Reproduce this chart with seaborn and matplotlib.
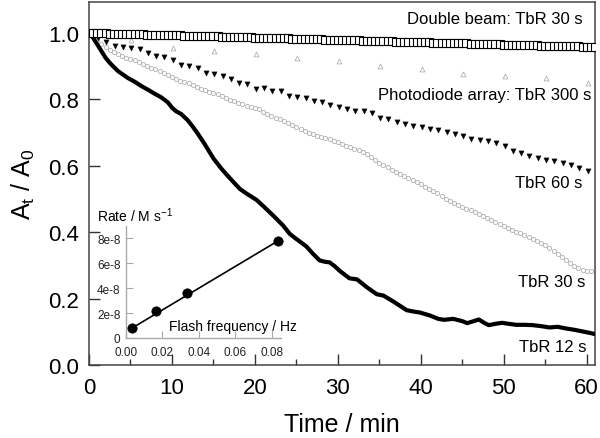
import numpy as np
import pandas as pd
import matplotlib
matplotlib.use("Agg")
import matplotlib.pyplot as plt
import seaborn as sns

# ---------------- data ----------------
# Double beam: TbR 30 s (open squares, every 0.5 min)
sq_t = [i * 0.5 for i in range(123)]
sq_v = [1.000, 1.000, 0.999, 0.999, 0.999, 0.998, 0.998, 0.998, 0.997, 0.997,
        0.997, 0.996, 0.996, 0.996, 0.995, 0.995, 0.995, 0.994, 0.994, 0.994,
        0.993, 0.993, 0.993, 0.992, 0.992, 0.992, 0.991, 0.991, 0.991, 0.990,
        0.990, 0.990, 0.989, 0.989, 0.988, 0.988, 0.988, 0.987, 0.987, 0.987,
        0.986, 0.986, 0.986, 0.985, 0.985, 0.985, 0.984, 0.984, 0.984, 0.983,
        0.983, 0.983, 0.982, 0.982, 0.981, 0.981, 0.981, 0.980, 0.980, 0.980,
        0.979, 0.979, 0.979, 0.978, 0.978, 0.978, 0.977, 0.977, 0.977, 0.976,
        0.976, 0.976, 0.975, 0.975, 0.974, 0.974, 0.974, 0.973, 0.973, 0.973,
        0.972, 0.972, 0.972, 0.971, 0.971, 0.971, 0.970, 0.970, 0.970, 0.969,
        0.969, 0.969, 0.968, 0.968, 0.967, 0.967, 0.967, 0.966, 0.966, 0.966,
        0.965, 0.965, 0.965, 0.964, 0.964, 0.964, 0.963, 0.963, 0.963, 0.962,
        0.962, 0.962, 0.961, 0.961, 0.961, 0.960, 0.960, 0.960, 0.960, 0.959,
        0.959, 0.959, 0.959]

# Photodiode array: TbR 300 s (open grey up-triangles)
pd_t = [0.1, 5.1, 10.1, 15.1, 20.1, 25.1, 30.1, 35.1, 40.1, 45.1, 50.1, 55.1, 60.1]
pd_v = [1.000, 0.978, 0.955, 0.945, 0.937, 0.924, 0.914, 0.899, 0.890, 0.876,
        0.871, 0.863, 0.849]

# TbR 60 s (filled down-triangles)
t60_t = [0.1 + i for i in range(61)]
t60_v = [1.000, 0.985, 0.972, 0.960, 0.957, 0.955, 0.952, 0.939, 0.930, 0.927,
         0.917, 0.903, 0.899, 0.895, 0.880, 0.877, 0.869, 0.862, 0.849, 0.846,
         0.831, 0.833, 0.824, 0.824, 0.811, 0.806, 0.804, 0.796, 0.791, 0.783,
         0.776, 0.771, 0.764, 0.764, 0.759, 0.743, 0.741, 0.733, 0.726, 0.719,
         0.716, 0.711, 0.708, 0.703, 0.696, 0.689, 0.681, 0.678, 0.673, 0.668,
         0.659, 0.644, 0.638, 0.630, 0.623, 0.617, 0.613, 0.607, 0.602, 0.592,
         0.583]

# TbR 30 s (open grey circles, every 0.5 min)
t30_t = [i * 0.5 for i in range(122)]
t30_v = [1.000, 0.992, 0.980, 0.968, 0.958, 0.949, 0.941, 0.935, 0.930, 0.925,
         0.921, 0.917, 0.912, 0.907, 0.901, 0.895, 0.890, 0.884, 0.878, 0.872,
         0.866, 0.860, 0.855, 0.851, 0.848, 0.844, 0.837, 0.831, 0.827, 0.823,
         0.819, 0.815, 0.810, 0.804, 0.799, 0.794, 0.789, 0.785, 0.781, 0.778,
         0.775, 0.771, 0.763, 0.755, 0.750, 0.745, 0.740, 0.735, 0.729, 0.722,
         0.716, 0.710, 0.705, 0.700, 0.695, 0.690, 0.686, 0.683, 0.679, 0.675,
         0.670, 0.665, 0.660, 0.655, 0.650, 0.646, 0.641, 0.636, 0.627, 0.617,
         0.608, 0.603, 0.596, 0.588, 0.581, 0.575, 0.569, 0.562, 0.556, 0.550,
         0.544, 0.537, 0.531, 0.524, 0.517, 0.509, 0.501, 0.495, 0.489, 0.482,
         0.476, 0.471, 0.466, 0.461, 0.456, 0.450, 0.444, 0.437, 0.431, 0.425,
         0.419, 0.412, 0.406, 0.401, 0.396, 0.391, 0.385, 0.379, 0.373, 0.366,
         0.360, 0.351, 0.342, 0.333, 0.324, 0.316, 0.307, 0.299, 0.292, 0.287,
         0.284, 0.284]

# TbR 12 s (thick black line)
t12_t = [0.0, 0.5, 1.0, 1.5, 2.0, 2.5, 3.0, 3.5, 4.0, 4.7, 5.5, 6.3, 7.1, 7.9,
         8.7, 9.5, 10.0, 10.5, 11.1, 11.9, 12.5, 13.1, 13.9, 15.0, 16.0, 17.0,
         18.2, 19.0, 20.2, 21.2, 22.2, 23.4, 24.2, 24.8, 25.4, 26.2, 27.0, 27.8,
         28.4, 29.0, 29.6, 30.2, 31.4, 32.3, 33.0, 33.5, 34.7, 35.5, 36.7, 37.5,
         38.3, 39.1, 39.9, 41.1, 42.1, 42.8, 43.9, 45.0, 45.6, 46.5, 47.0, 47.7,
         48.2, 49.0, 49.8, 50.6, 51.5, 52.5, 53.5, 54.5, 55.5, 56.5, 57.5, 58.5,
         59.5, 60.5, 61.0]
t12_v = [1.000, 0.985, 0.965, 0.945, 0.925, 0.910, 0.897, 0.885, 0.876, 0.864,
         0.853, 0.840, 0.829, 0.817, 0.806, 0.791, 0.775, 0.764, 0.756, 0.737,
         0.718, 0.697, 0.667, 0.622, 0.590, 0.562, 0.530, 0.516, 0.497, 0.474,
         0.450, 0.420, 0.395, 0.383, 0.372, 0.357, 0.335, 0.315, 0.311, 0.309,
         0.298, 0.284, 0.261, 0.258, 0.244, 0.234, 0.213, 0.209, 0.191, 0.178,
         0.165, 0.161, 0.158, 0.149, 0.139, 0.136, 0.139, 0.132, 0.126, 0.133,
         0.137, 0.126, 0.120, 0.124, 0.127, 0.124, 0.121, 0.121, 0.120, 0.117,
         0.113, 0.115, 0.110, 0.106, 0.101, 0.096, 0.093]

# Inset: rate vs flash frequency
freq = [1 / 300, 1 / 60, 1 / 30, 1 / 12]
rate = [0.8e-8, 2.2e-8, 3.6e-8, 7.8e-8]

x_ticks = [0, 10, 20, 30, 40, 50, 60]
y_ticks = [0.0, 0.2, 0.4, 0.6, 0.8, 1.0]
ix_ticks = [0.00, 0.02, 0.04, 0.06, 0.08]
iy_ticks = [0, 2e-8, 4e-8, 6e-8, 8e-8]
iy_labels = ["0", "2e-8", "4e-8", "6e-8", "8e-8"]

# ---------------- style ----------------
sns.set_theme(style="ticks")
plt.rcParams["font.family"] = ["Liberation Sans", "DejaVu Sans"]
plt.rcParams["mathtext.default"] = "regular"
plt.rcParams["text.color"] = "black"
plt.rcParams["axes.labelcolor"] = "black"
plt.rcParams["xtick.color"] = "black"
plt.rcParams["ytick.color"] = "black"

fig = plt.figure(figsize=(6.0, 4.39), dpi=100)
ax = fig.add_axes([89 / 600, 73 / 439, 506 / 600, 363 / 439])

grey = "#b0b0b0"

sns.scatterplot(x=t30_t, y=t30_v, ax=ax, marker="o", s=9, facecolor="white",
                edgecolor=grey, linewidth=0.6, zorder=3, clip_on=True)
sns.scatterplot(x=t60_t, y=t60_v, ax=ax, marker="v", s=14, color="black",
                edgecolor="black", linewidth=0.3, zorder=4)
sns.lineplot(x=t12_t, y=t12_v, ax=ax, color="black", linewidth=3.0,
             zorder=5, sort=False)
sns.scatterplot(x=pd_t, y=pd_v, ax=ax, marker="^", s=12, facecolor="white",
                edgecolor=grey, linewidth=0.6, zorder=6)
sns.scatterplot(x=sq_t, y=sq_v, ax=ax, marker="s", s=34, facecolor="white",
                edgecolor="black", linewidth=0.8, zorder=7)

ax.set_xlim(0, 61)
ax.set_ylim(0, 1.093)
ax.set_xticks(x_ticks)
ax.set_xticks([5, 15, 25, 35, 45, 55], minor=True)
ax.set_yticks(y_ticks)
ax.set_yticklabels([f"{v:.1f}" for v in y_ticks])
ax.tick_params(axis="both", which="major", direction="in", length=8, width=1.0,
               labelsize=16, color="#333333", labelcolor="black")
ax.tick_params(axis="x", which="major", pad=9)
ax.tick_params(axis="y", which="major", pad=7)
ax.tick_params(axis="x", which="minor", direction="in", length=4, width=1.0,
               color="#333333")
for s in ax.spines.values():
    s.set_color("#444444")
    s.set_linewidth(1.1)
ax.set_xlabel("Time / min", fontsize=18, labelpad=10, color="black")
ax.set_ylabel("A$_t$ / A$_0$", fontsize=18, labelpad=8, color="black")

fs = 12
ax.text(59.5, 1.042, "Double beam: TbR 30 s", ha="right", va="center", fontsize=fs)
ax.text(60.6, 0.813, "Photodiode array: TbR 300 s", ha="right", va="center", fontsize=fs)
ax.text(59.5, 0.551, "TbR 60 s", ha="right", va="center", fontsize=fs)
ax.text(59.8, 0.250, "TbR 30 s", ha="right", va="center", fontsize=fs)
ax.text(60.0, 0.057, "TbR 12 s", ha="right", va="center", fontsize=fs)

# ---------------- inset ----------------
ins = fig.add_axes([126 / 600, 100 / 439, 155 / 600, 112 / 439])
ins.set_facecolor("none")
sns.lineplot(x=[freq[0], freq[-1]], y=[rate[0], rate[-1]], ax=ins,
             color="black", linewidth=1.2)
sns.scatterplot(x=freq, y=rate, ax=ins, color="black", s=45, edgecolor="black",
                zorder=5, clip_on=False)
ins.set_xlim(0, 0.085)
ins.set_ylim(0, 9e-8)
ins.set_xticks(ix_ticks)
ins.set_xticklabels([f"{v:.2f}" for v in ix_ticks])
ins.set_yticks(iy_ticks)
ins.set_yticklabels(iy_labels)
ins.tick_params(axis="both", direction="in", length=5, width=0.8, color="#aaaaaa",
                labelsize=8.5, labelcolor="#222222")
ins.tick_params(axis="x", pad=6)
ins.tick_params(axis="y", pad=4)
for side in ["top", "right"]:
    ins.spines[side].set_visible(False)
for side in ["left", "bottom"]:
    ins.spines[side].set_color("#aaaaaa")
    ins.spines[side].set_linewidth(1.0)
ins.set_xlabel("")
ins.set_ylabel("")

fig.text(97 / 600, 1 - 216 / 439, "Rate / M s$^{-1}$", ha="left", va="center",
         fontsize=10)
fig.text(297 / 600, 1 - 327 / 439, "Flash frequency / Hz", ha="right",
         va="center", fontsize=10)

fig.savefig("out.png", dpi=100)
